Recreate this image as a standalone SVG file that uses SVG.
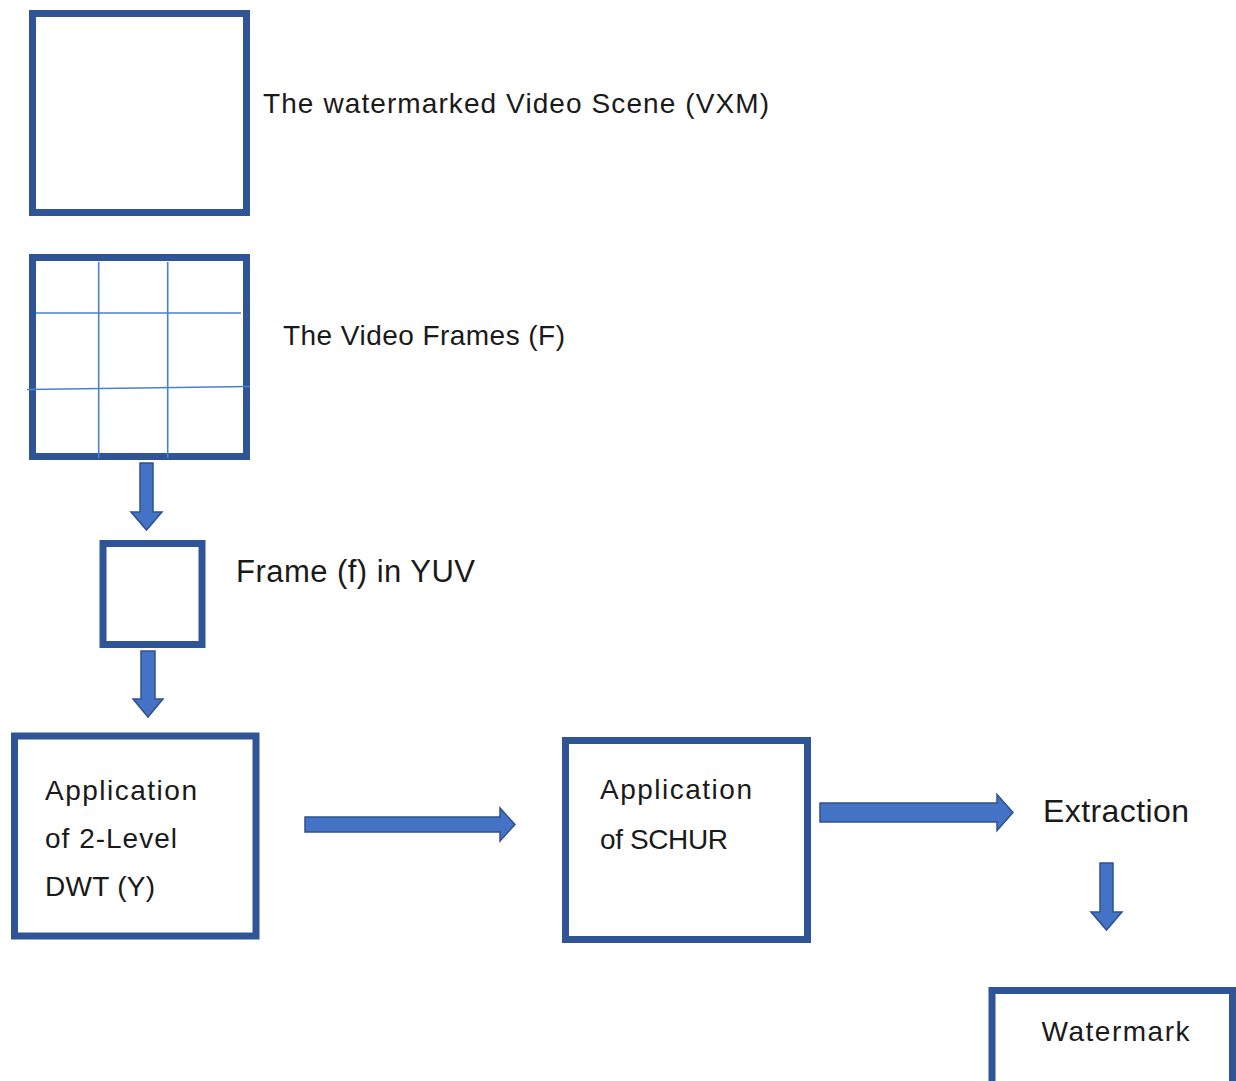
<svg xmlns="http://www.w3.org/2000/svg" width="1236" height="1081" viewBox="0 0 1236 1081">
<style>
.box{fill:#fff;stroke:#2f5597;stroke-width:7}
.grid{stroke:#4a7fd6;stroke-width:1.6;fill:none}
.arr{fill:#4472c4;stroke:#2f528f;stroke-width:1.5;stroke-linejoin:miter}
text{font-family:"Liberation Sans",Arial,sans-serif;fill:#1a1a1a}
</style>
<rect width="1236" height="1081" fill="#fff"/>
<g id="video-scene">
<rect class="box" x="32.5" y="13.5" width="214" height="199"/>
<text x="263" y="113" font-size="28" textLength="506" lengthAdjust="spacing">The watermarked Video Scene (VXM)</text>
</g>
<g id="video-frames">
<rect class="box" x="32.5" y="257.5" width="214" height="199"/>
<line class="grid" x1="98.7" y1="262" x2="98.7" y2="458"/>
<line class="grid" x1="167.7" y1="262" x2="167.7" y2="458"/>
<line class="grid" x1="36" y1="313" x2="241" y2="313"/>
<line class="grid" x1="27" y1="389.5" x2="250" y2="386.5"/>
<text x="283" y="345" font-size="28" textLength="282" lengthAdjust="spacing">The Video Frames (F)</text>
</g>
<g id="frame-yuv">
<rect class="box" x="103" y="543.5" width="99" height="101"/>
<text x="236" y="582" font-size="31" textLength="239" lengthAdjust="spacing">Frame (f) in YUV</text>
</g>
<g id="dwt">
<rect class="box" x="14.5" y="736" width="241.5" height="200"/>
<text font-size="28"><tspan x="45" y="800" textLength="152" lengthAdjust="spacing">Application</tspan><tspan x="45" y="848" textLength="132" lengthAdjust="spacing">of 2-Level</tspan><tspan x="45" y="896" textLength="110" lengthAdjust="spacing">DWT (Y)</tspan></text>
</g>
<g id="schur">
<rect class="box" x="565.5" y="740.5" width="242" height="199"/>
<text font-size="28"><tspan x="600" y="799" textLength="152" lengthAdjust="spacing">Application</tspan><tspan x="600" y="849" textLength="128" lengthAdjust="spacing">of SCHUR</tspan></text>
</g>
<g id="extraction">
<text x="1043" y="822" font-size="32" textLength="146" lengthAdjust="spacing">Extraction</text>
</g>
<g id="watermark">
<rect class="box" x="992" y="990.5" width="240.5" height="110"/>
<text x="1041.5" y="1041" font-size="28" textLength="148" lengthAdjust="spacing">Watermark</text>
</g>
<g id="connectors">
<polygon class="arr" points="140,463 153,463 153,512 162,512 146.5,530 131,512 140,512"/>
<polygon class="arr" points="141,651 155,651 155,699 163,699 148,717 133,699 141,699"/>
<polygon class="arr" points="305,817 500,817 500,808 515,824.5 500,841 500,832 305,832"/>
<polygon class="arr" points="820,803 997,803 997,794.5 1013,812.5 997,830.5 997,822 820,822"/>
<polygon class="arr" points="1100,863 1113,863 1113,912 1122,912 1106.5,930 1091,912 1100,912"/>
</g>
</svg>
